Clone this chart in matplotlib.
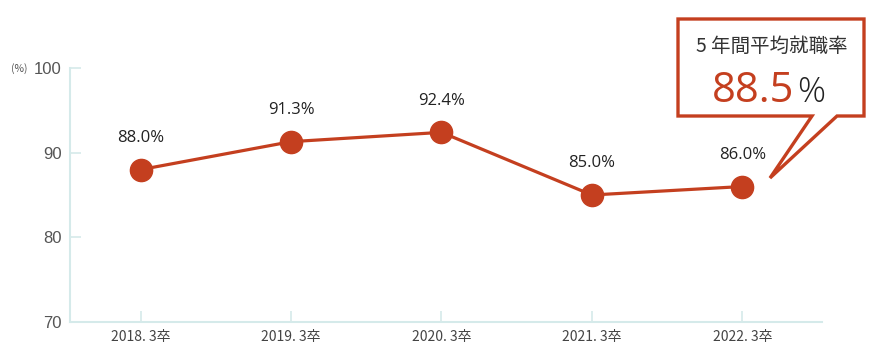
import matplotlib
matplotlib.use("Agg")
import matplotlib.pyplot as plt
from matplotlib.path import Path
from matplotlib.patches import PathPatch

# data
years = ["2018. 3卒", "2019. 3卒", "2020. 3卒", "2021. 3卒", "2022. 3卒"]
rates = [88.0, 91.3, 92.4, 85.0, 86.0]
labels = ["88.0%", "91.3%", "92.4%", "85.0%", "86.0%"]
yticks = [70, 80, 90, 100]
avg_title = "5 年間平均就職率"
avg_value = "88.5"

red = "#c43f1f"
axis_col = "#d5eaea"
W, H = 880, 364

plt.rcParams['font.family'] = ['Noto Sans CJK JP', 'DejaVu Sans']

fig = plt.figure(figsize=(W / 100, H / 100), dpi=100)
ax = fig.add_axes([70 / W, 1 - 322 / H, 752 / W, 254 / H])

x = list(range(len(years)))
ax.plot(x, rates, color=red, lw=2.3, marker="o", ms=16, mfc=red, mec=red, zorder=3)
for xi, yi, lab in zip(x, rates, labels):
    ax.annotate(lab, (xi, yi), xytext=(0, 17), textcoords="offset points",
                ha="center", va="bottom", fontsize=12, color="#222222",
                family=["Open Sans", "DejaVu Sans"])

ax.set_xlim(-0.47, 4.53)
ax.set_ylim(70, 100)
ax.set_yticks(yticks)
ax.set_xticks(x)
ax.set_xticklabels(years, fontsize=10, color="#444444")
ax.set_yticklabels([str(t) for t in yticks], fontsize=12, color="#555555",
                   family=["Liberation Sans", "DejaVu Sans"])
ax.tick_params(axis="both", direction="in", length=8, width=1.2, color=axis_col)
ax.tick_params(axis="x", pad=6)
ax.tick_params(axis="y", pad=6)
for s in ["top", "right"]:
    ax.spines[s].set_visible(False)
for s in ["left", "bottom"]:
    ax.spines[s].set_color(axis_col)
    ax.spines[s].set_linewidth(1.5)

fig.text(11 / W, 1 - 69 / H, "(%)", fontsize=7.5, color="#555555", ha="left", va="center")

# callout box with tail (pixel coords -> figure fraction)
pts = [(678, 19), (864, 19), (864, 116), (837, 116), (770, 178), (812, 116), (678, 116), (678, 19)]
verts = [(px / W, 1 - py / H) for px, py in pts]
codes = [Path.MOVETO] + [Path.LINETO] * (len(verts) - 2) + [Path.CLOSEPOLY]
fig.patches.append(PathPatch(Path(verts, codes), transform=fig.transFigure,
                             facecolor="white", edgecolor=red, lw=2.4, zorder=5))

fig.text(772 / W, 1 - 46 / H, avg_title, fontsize=14, color="#333333",
         ha="center", va="center", zorder=6)
fig.text(794 / W, 1 - 102 / H, avg_value, fontsize=30, color=red,
         ha="right", va="baseline", zorder=6, family=["Open Sans", "DejaVu Sans"])
fig.text(797 / W, 1 - 102 / H, "%", fontsize=25, color="#222222", fontweight="light",
         ha="left", va="baseline", zorder=6, family=["Open Sans", "DejaVu Sans"])

fig.savefig("out.png", dpi=100)
